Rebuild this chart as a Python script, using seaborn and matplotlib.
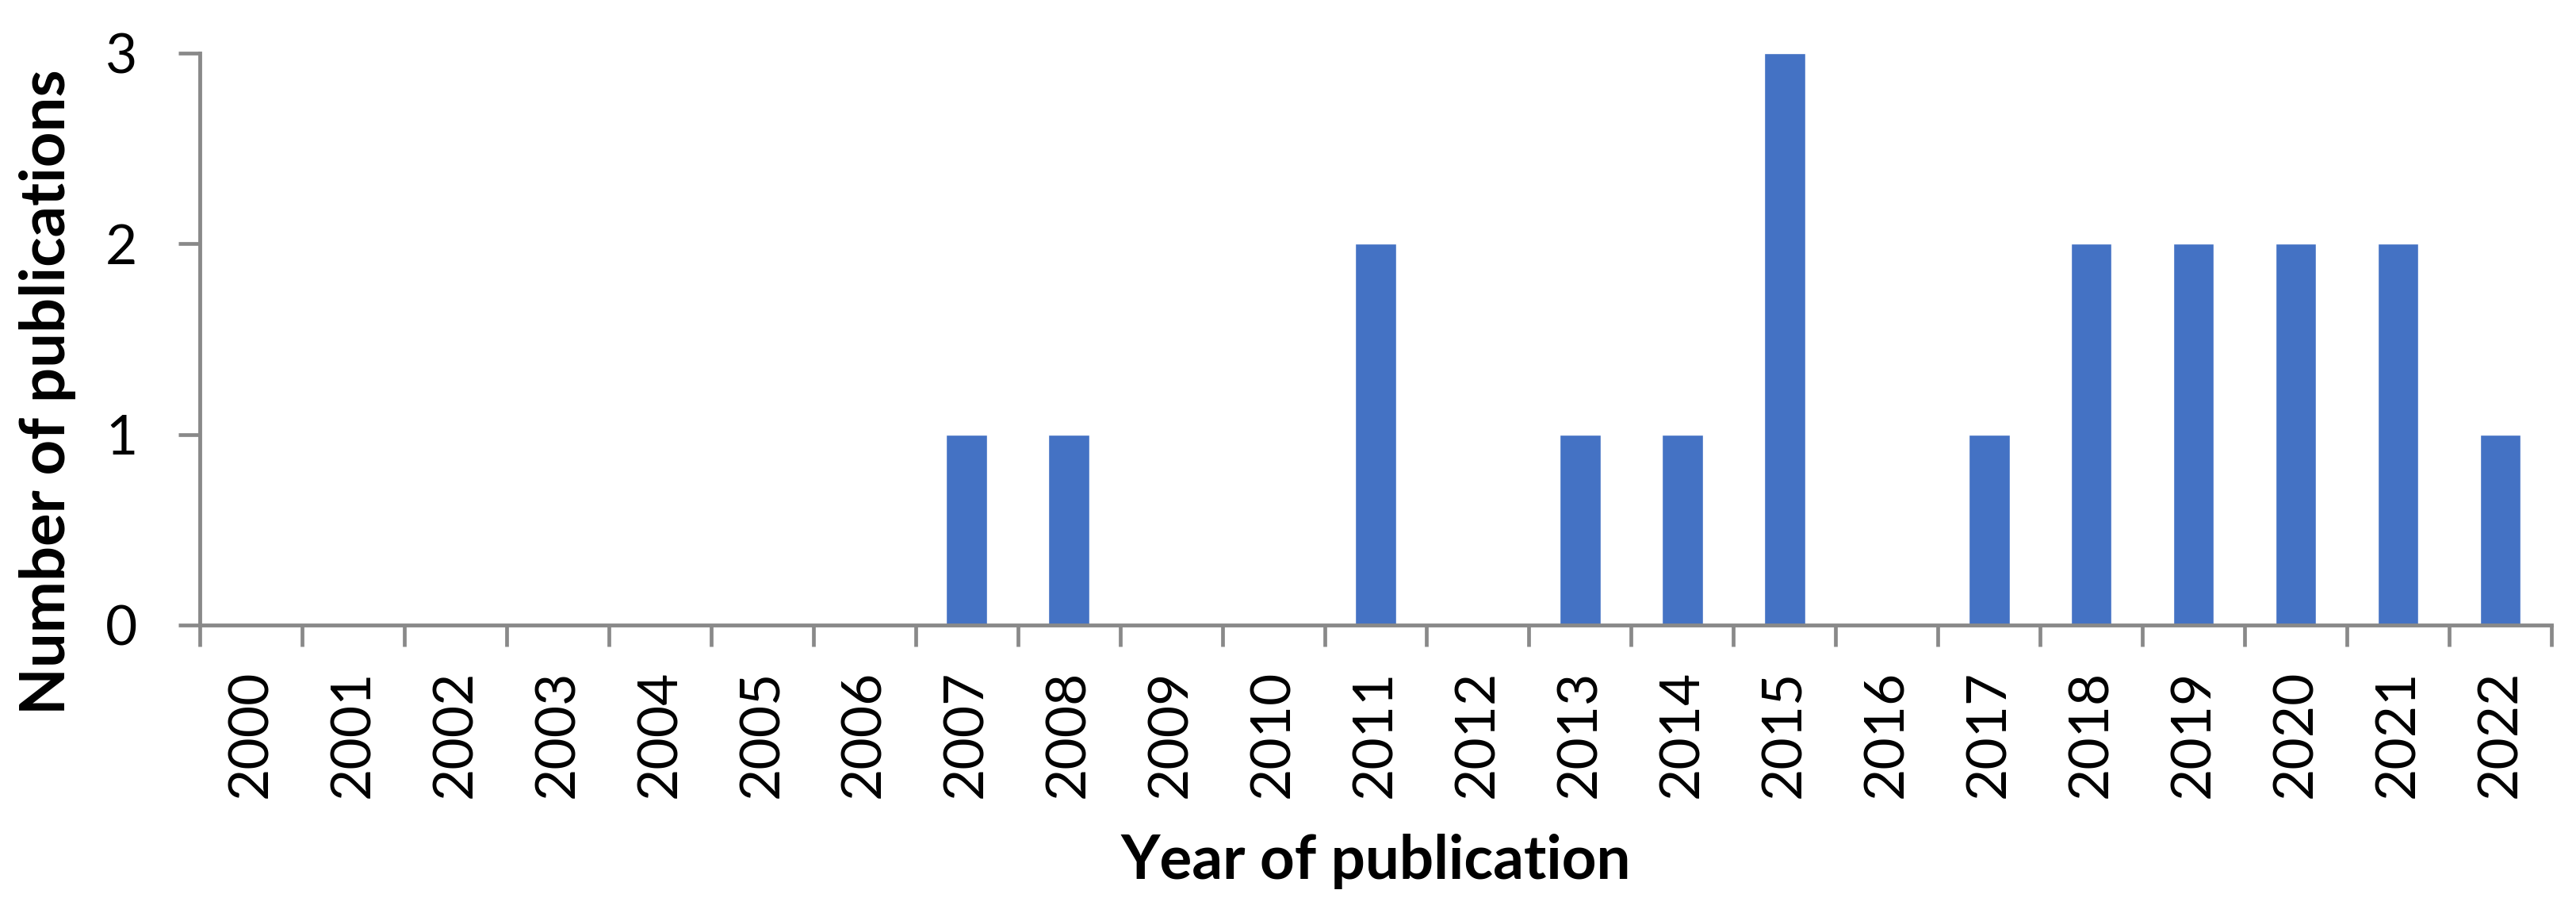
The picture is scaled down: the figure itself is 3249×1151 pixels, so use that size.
import matplotlib
matplotlib.use("Agg")
import matplotlib.pyplot as plt
import seaborn as sns
import pandas as pd
import numpy as np

years = [str(y) for y in range(2000, 2023)]
counts = [0, 0, 0, 0, 0, 0, 0, 1, 1, 0, 0, 2, 0, 1, 1, 3, 0, 1, 2, 2, 2, 2, 1]
y_ticks = [0, 1, 2, 3]

sns.set_theme(style="white")
plt.rcParams['font.family'] = ['Lato', 'DejaVu Sans']

GRAY = '#898989'
BAR = '#4472C4'
DPI = 100
W, H = 3249, 1151

fig = plt.figure(figsize=(W / DPI, H / DPI), dpi=DPI)
left, right, top, bottom = 252, 3218, 67, 788
ax = fig.add_axes([left / W, (H - bottom) / H, (right - left) / W, (bottom - top) / H])

df = pd.DataFrame({"year": years, "count": counts})
sns.barplot(data=df, x="year", y="count", color=BAR, width=0.4, saturation=1,
            ax=ax, order=years)

ax.set_xlim(-0.5, len(years) - 0.5)
ax.set_ylim(0, 3)
ax.set_yticks(y_ticks)
ax.set_yticklabels([str(v) for v in y_ticks])

for s in ['top', 'right']:
    ax.spines[s].set_visible(False)
for s in ['left', 'bottom']:
    ax.spines[s].set_color(GRAY)
    ax.spines[s].set_linewidth(3.5)

ax.set_xticks(np.arange(len(years)))
ax.set_xticklabels(years, rotation=90)
ax.set_xticks(np.arange(len(years) + 1) - 0.5, minor=True)
ax.tick_params(axis='x', which='major', length=0, pad=41, labelsize=50, labelcolor='black')
ax.tick_params(axis='x', which='minor', length=19.5, width=3.4, color=GRAY, direction='out', bottom=True)
ax.tick_params(axis='y', which='major', length=19.5, width=3.4, color=GRAY, direction='out',
               pad=37, labelsize=50, labelcolor='black', left=True)

ax.set_xlabel("Year of publication", fontsize=55, fontweight='bold', color='black')
ax.set_ylabel("Number of publications", fontsize=56, fontweight='bold', color='black')
ax.xaxis.set_label_coords(0.5, (bottom - 1086) / (bottom - top))
ax.xaxis.label.set_va('center')
ax.yaxis.set_label_coords((60 - left) / (right - left), (bottom - 494) / (bottom - top))
ax.yaxis.label.set_va('center')

fig.savefig("out.png", dpi=DPI, facecolor='white')
